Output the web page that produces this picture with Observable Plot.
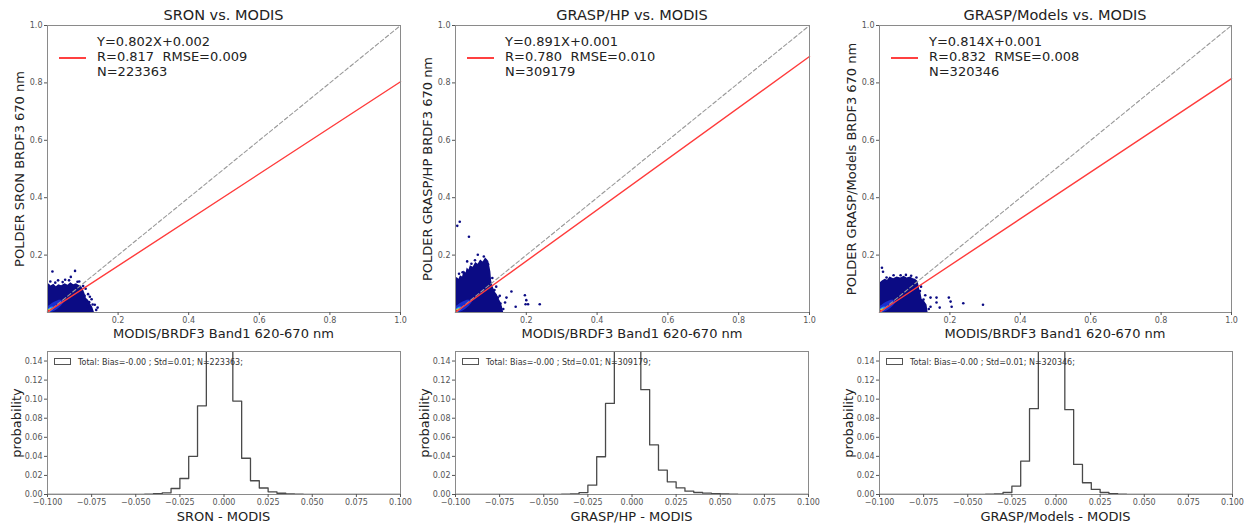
<!DOCTYPE html>
<html>
<head>
<meta charset="utf-8">
<script src="https://cdn.jsdelivr.net/npm/d3@7"></script>
<script src="https://cdn.jsdelivr.net/npm/@observablehq/plot@0.6"></script>
<style>
  html, body { margin: 0; padding: 0; background: #fff; }
  #root { position: relative; width: 1247px; height: 525px; overflow: hidden; font-family: "DejaVu Sans", sans-serif; color: #222; }
  .abs { position: absolute; white-space: nowrap; }
  .title { font-size: 14.5px; transform: translate(-50%, -50%); }
  .xlab { font-size: 13px; transform: translate(-50%, -50%); }
  .ylab { font-size: 13px; transform: translate(-50%, -50%) rotate(-90deg); }
  .leg { font-size: 13px; line-height: 15px; }
  .hleg { font-size: 8px; color: #333; transform: translateY(-50%); }
  .hbox { border: 1px solid #555; background: #fff; box-sizing: border-box; }
  .seg { height: 2px; background: #ff4040; }
</style>
</head>
<body>
<div id="root"></div>
<script>
// ---------------- DATA ----------------
const titles = ["SRON vs. MODIS", "GRASP/HP vs. MODIS", "GRASP/Models vs. MODIS"];
const yLabels = ["POLDER SRON BRDF3 670 nm", "POLDER GRASP/HP BRDF3 670 nm", "POLDER GRASP/Models BRDF3 670 nm"];
const xLabel = "MODIS/BRDF3 Band1 620-670 nm";
const histLabels = ["SRON - MODIS", "GRASP/HP - MODIS", "GRASP/Models - MODIS"];
const slopes = [0.802, 0.891, 0.814];
const intercepts = [0.002, 0.001, 0.001];
const rValues = ["0.817", "0.780", "0.832"];
const rmseValues = ["0.009", "0.010", "0.008"];
const nValues = ["223363", "309179", "320346"];

const scatterTicks = [0.2, 0.4, 0.6, 0.8, 1.0];
const histXTicks = [-0.100, -0.075, -0.050, -0.025, 0.000, 0.025, 0.050, 0.075, 0.100];
const histYTicks = [0.00, 0.02, 0.04, 0.06, 0.08, 0.10, 0.12, 0.14];

// dense point cloud outline (upper edge), per panel
const cloudX1 = [0, 0.004, 0.01, 0.018, 0.025, 0.032, 0.04, 0.05, 0.058, 0.066, 0.074, 0.082, 0.09, 0.097, 0.102, 0.106, 0.11, 0.116, 0.122, 0.128, 0.133];
const cloudY1 = [0.088, 0.1, 0.092, 0.098, 0.09, 0.097, 0.093, 0.1, 0.095, 0.104, 0.097, 0.1, 0.094, 0.09, 0.078, 0.066, 0.05, 0.042, 0.03, 0.018, 0];
const cloudX2 = [0, 0.004, 0.01, 0.014, 0.02, 0.024, 0.03, 0.033, 0.038, 0.042, 0.05, 0.057, 0.064, 0.071, 0.078, 0.085, 0.09, 0.094, 0.097, 0.1, 0.102, 0.106, 0.113, 0.118, 0.123, 0.128, 0.132, 0.136];
const cloudY2 = [0.112, 0.122, 0.116, 0.128, 0.124, 0.145, 0.138, 0.155, 0.148, 0.163, 0.158, 0.174, 0.168, 0.183, 0.176, 0.19, 0.184, 0.178, 0.16, 0.14, 0.11, 0.09, 0.07, 0.062, 0.047, 0.036, 0.022, 0];
const cloudX3 = [0, 0.002, 0.008, 0.016, 0.023, 0.03, 0.04, 0.05, 0.06, 0.07, 0.078, 0.088, 0.096, 0.102, 0.108, 0.111, 0.114, 0.118, 0.121, 0.128, 0.135, 0.138];
const cloudY3 = [0.098, 0.104, 0.11, 0.116, 0.112, 0.124, 0.118, 0.124, 0.12, 0.126, 0.12, 0.124, 0.118, 0.116, 0.11, 0.1, 0.082, 0.066, 0.046, 0.038, 0.026, 0];

// density core layers (lower / upper edges)
const coreBlueX = [0, 0.01, 0.02, 0.03, 0.04, 0.048];
const coreBlueLo = [0, 0, 0.004, 0.012, 0.022, 0.036];
const coreBlueHi = [0.018, 0.028, 0.036, 0.042, 0.044, 0.036];
const coreCyanX = [0, 0.007, 0.014, 0.021];
const coreCyanLo = [0, 0, 0.005, 0.017];
const coreCyanHi = [0.009, 0.016, 0.021, 0.017];
const coreYellowX = [0, 0.005, 0.01, 0.014];
const coreYellowLo = [0, 0, 0.004, 0.011];
const coreYellowHi = [0.007, 0.011, 0.014, 0.011];
const coreRedX = [0, 0.004, 0.009];
const coreRedLo = [0, 0, 0.006];
const coreRedHi = [0.005, 0.009, 0.006];

// isolated points around / outside the dense cloud
const outX1 = [0.014, 0.078, 0.066, 0.125, 0.134, 0.115, 0.142, 0.112, 0.03, 0.05, 0.09, 0.12, 0.008, 0.022, 0.043, 0.061, 0.085, 0.101, 0.108, 0.118, 0.128, 0.138, 0.105, 0.113];
const outY1 = [0.143, 0.145, 0.124, 0.046, 0.027, 0.064, 0.017, 0.041, 0.112, 0.114, 0.108, 0.055, 0.108, 0.104, 0.106, 0.112, 0.107, 0.092, 0.083, 0.036, 0.028, 0.009, 0.058, 0.022];
const outX2 = [0.005, 0.012, 0.038, 0.063, 0.033, 0.158, 0.144, 0.196, 0.2, 0.198, 0.205, 0.238, 0.17, 0.127, 0.12, 0.115, 0.01, 0.045, 0.08, 0.14, 0.02, 0.055, 0.092, 0.104, 0.11, 0.125, 0.135];
const outY2 = [0.302, 0.316, 0.264, 0.201, 0.178, 0.073, 0.052, 0.06, 0.043, 0.029, 0.029, 0.029, 0.02, 0.031, 0.052, 0.09, 0.135, 0.17, 0.195, 0.035, 0.14, 0.182, 0.168, 0.12, 0.078, 0.058, 0.012];
const outX3 = [0.007, 0.01, 0.145, 0.162, 0.162, 0.197, 0.202, 0.205, 0.238, 0.294, 0.145, 0.171, 0.124, 0.13, 0.06, 0.09, 0.118, 0.02, 0.04, 0.075, 0.105, 0.115, 0.125, 0.14];
const outY3 = [0.156, 0.142, 0.052, 0.052, 0.035, 0.052, 0.038, 0.02, 0.032, 0.027, 0.02, 0.017, 0.035, 0.06, 0.13, 0.128, 0.09, 0.122, 0.13, 0.131, 0.122, 0.075, 0.045, 0.012];

// histogram bins (left edges, width 0.005) and probabilities
const binLeft = [-0.100, -0.095, -0.090, -0.085, -0.080, -0.075, -0.070, -0.065, -0.060, -0.055,
                 -0.050, -0.045, -0.040, -0.035, -0.030, -0.025, -0.020, -0.015, -0.010, -0.005,
                  0.000,  0.005,  0.010,  0.015,  0.020,  0.025,  0.030,  0.035,  0.040,  0.045,
                  0.050,  0.055,  0.060,  0.065,  0.070,  0.075,  0.080,  0.085,  0.090,  0.095];
const binRight = 0.100;
const prob1 = [0, 0, 0, 0, 0, 0, 0, 0, 0, 0.0001,
               0.0002, 0.0004, 0.0009, 0.0018, 0.0063, 0.0168, 0.040, 0.093, 0.21, 0.25,
               0.21, 0.098, 0.038, 0.0144, 0.0068, 0.0028, 0.0013, 0.0006, 0.0003, 0.0002,
               0.0001, 0.0001, 0, 0, 0, 0, 0, 0, 0, 0];
const prob2 = [0, 0, 0, 0, 0, 0, 0, 0, 0, 0,
               0, 0.0001, 0.0003, 0.0007, 0.002, 0.0098, 0.0396, 0.0955, 0.20, 0.24,
               0.195, 0.110, 0.052, 0.0256, 0.0133, 0.007, 0.0035, 0.0021, 0.0014, 0.001,
               0.0007, 0.0004, 0.0002, 0.0001, 0, 0, 0, 0, 0, 0];
const prob3 = [0, 0, 0, 0, 0, 0, 0, 0, 0, 0,
               0, 0.0001, 0.0003, 0.0007, 0.0021, 0.0088, 0.035, 0.090, 0.23, 0.27,
               0.22, 0.089, 0.0315, 0.0123, 0.0053, 0.0021, 0.0009, 0.0004, 0.0002, 0.0001,
               0.0001, 0.0001, 0.0001, 0.0001, 0.0001, 0.0001, 0.0001, 0.0001, 0, 0];
const histBias = ["-0.00", "-0.00", "-0.00"];
const histStd = ["0.01", "0.01", "0.01"];

// ---------------- LAYOUT ----------------
const frames = [
  {sx0: 47, sx1: 400, hx0: 47, hx1: 400},
  {sx0: 455, sx1: 809, hx0: 455, hx1: 808},
  {sx0: 879, sx1: 1231, hx0: 879, hx1: 1232}
];
const sTop = 25, sBot = 312, hTop = 351, hBot = 494;

const clouds = [[cloudX1, cloudY1], [cloudX2, cloudY2], [cloudX3, cloudY3]];
const outs = [[outX1, outY1], [outX2, outY2], [outX3, outY3]];
const probs = [prob1, prob2, prob3];

const NAVY = "#0b0b84";
const root = document.getElementById("root");
const fontFam = "DejaVu Sans, sans-serif";

function addText(cls, text, x, y) {
  const d = document.createElement("div");
  d.className = "abs " + cls;
  d.textContent = text;
  d.style.left = x + "px";
  d.style.top = y + "px";
  root.appendChild(d);
  return d;
}
function band(xs, lo, hi) { return xs.map((x, i) => ({x, y1: lo[i], y2: hi[i]})); }

for (let p = 0; p < 3; p++) {
  const f = frames[p];
  // ---------- scatter ----------
  const ml = 40, mr = 14, mt = 15, mb = 22;
  const W = f.sx1 - f.sx0, H = sBot - sTop;
  const cloud = clouds[p][0].map((x, i) => ({x, y: clouds[p][1][i]}));
  const pts = outs[p][0].map((x, i) => ({x, y: outs[p][1][i]}));
  const a = slopes[p], b = intercepts[p];
  const fit = [{x: 0, y: b}, {x: 1, y: a + b}];
  const diag = [{x: 0, y: 0}, {x: 1, y: 1}];
  const sc = Plot.plot({
    width: W + ml + mr, height: H + mt + mb,
    marginLeft: ml, marginRight: mr, marginTop: mt, marginBottom: mb,
    x: {domain: [0, 1]}, y: {domain: [0, 1]},
    style: {fontFamily: fontFam, fontSize: "8px", background: "transparent", overflow: "visible"},
    marks: [
      Plot.areaY(cloud, {x: "x", y: "y", fill: NAVY}),
      Plot.dot(pts, {x: "x", y: "y", r: 1.3, fill: NAVY}),
      Plot.areaY(band(coreBlueX, coreBlueLo, coreBlueHi), {x: "x", y1: "y1", y2: "y2", fill: "#1a2ed0", curve: "basis"}),
      Plot.areaY(band(coreCyanX, coreCyanLo, coreCyanHi), {x: "x", y1: "y1", y2: "y2", fill: "#1e90ff", curve: "basis"}),
      Plot.areaY(band(coreYellowX, coreYellowLo, coreYellowHi), {x: "x", y1: "y1", y2: "y2", fill: "#c8e040", curve: "basis"}),
      Plot.areaY(band(coreRedX, coreRedLo, coreRedHi), {x: "x", y1: "y1", y2: "y2", fill: "#e01010", curve: "basis"}),
      Plot.line(diag, {x: "x", y: "y", stroke: "#999", strokeWidth: 1.1, strokeDasharray: "4,2.5"}),
      Plot.line(fit, {x: "x", y: "y", stroke: "#ff3b3b", strokeWidth: 1.4}),
      Plot.frame({stroke: "#8a8a8a", strokeWidth: 1}),
      Plot.axisX(scatterTicks, {tickSize: 3, tickPadding: 2, tickFormat: d3.format(".1f"), label: null, color: "#555", fontSize: 8}),
      Plot.axisY(scatterTicks, {tickSize: 3, tickPadding: 2, tickFormat: d3.format(".1f"), label: null, color: "#555", fontSize: 8})
    ]
  });
  sc.style.position = "absolute";
  sc.style.left = (f.sx0 - ml) + "px";
  sc.style.top = (sTop - mt) + "px";
  root.appendChild(sc);

  const cx = (f.sx0 + f.sx1) / 2;
  addText("title", titles[p], cx, 15);
  addText("xlab", xLabel, cx, 333);
  addText("ylab", yLabels[p], f.sx0 - 28, (sTop + sBot) / 2);
  // legend
  const seg = document.createElement("div");
  seg.className = "abs seg";
  Object.assign(seg.style, {left: (f.sx0 + 12) + "px", top: "57px", width: "27px"});
  root.appendChild(seg);
  const leg = addText("leg", "", f.sx0 + 50, 34);
  leg.innerHTML = `Y=${a.toFixed(3)}X+${b.toFixed(3)}<br>R=${rValues[p]}&nbsp;&nbsp;RMSE=${rmseValues[p]}<br>N=${nValues[p]}`;

  // ---------- histogram ----------
  const hml = 40, hmr = 14, hmt = 11, hmb = 20;
  const HW = f.hx1 - f.hx0, HH = hBot - hTop;
  const pr = probs[p];
  const steps = [{x: binLeft[0], y: 0}]
    .concat(binLeft.map((x, i) => ({x, y: pr[i]})))
    .concat([{x: binRight, y: pr[pr.length - 1]}, {x: binRight, y: 0}]);
  const hs = Plot.plot({
    width: HW + hml + hmr, height: HH + hmt + hmb,
    marginLeft: hml, marginRight: hmr, marginTop: hmt, marginBottom: hmb,
    x: {domain: [-0.1, 0.1]}, y: {domain: [0, 0.15]},
    style: {fontFamily: fontFam, fontSize: "8px", background: "transparent", overflow: "visible"},
    marks: [
      Plot.line(steps, {x: "x", y: "y", curve: "step-after", stroke: "#4a4a4a", strokeWidth: 1.3, clip: true}),
      Plot.frame({stroke: "#8a8a8a", strokeWidth: 1}),
      Plot.axisX(histXTicks, {tickSize: 3, tickPadding: 2, tickFormat: d3.format(".3f"), label: null, color: "#555", fontSize: 8}),
      Plot.axisY(histYTicks, {tickSize: 3, tickPadding: 2, tickFormat: d3.format(".2f"), label: null, color: "#555", fontSize: 8})
    ]
  });
  hs.style.position = "absolute";
  hs.style.left = (f.hx0 - hml) + "px";
  hs.style.top = (hTop - hmt) + "px";
  root.appendChild(hs);

  const hcx = (f.hx0 + f.hx1) / 2;
  addText("xlab", histLabels[p], hcx, 516);
  addText("ylab", "probability", f.hx0 - 31, (hTop + hBot) / 2);
  const box = document.createElement("div");
  box.className = "abs hbox";
  Object.assign(box.style, {left: (f.hx0 + 7) + "px", top: "358px", width: "17px", height: "7px"});
  root.appendChild(box);
  addText("hleg", `Total: Bias=${histBias[p]} ; Std=${histStd[p]}; N=${nValues[p]};`, f.hx0 + 31, 362);
}
</script>
</body>
</html>
